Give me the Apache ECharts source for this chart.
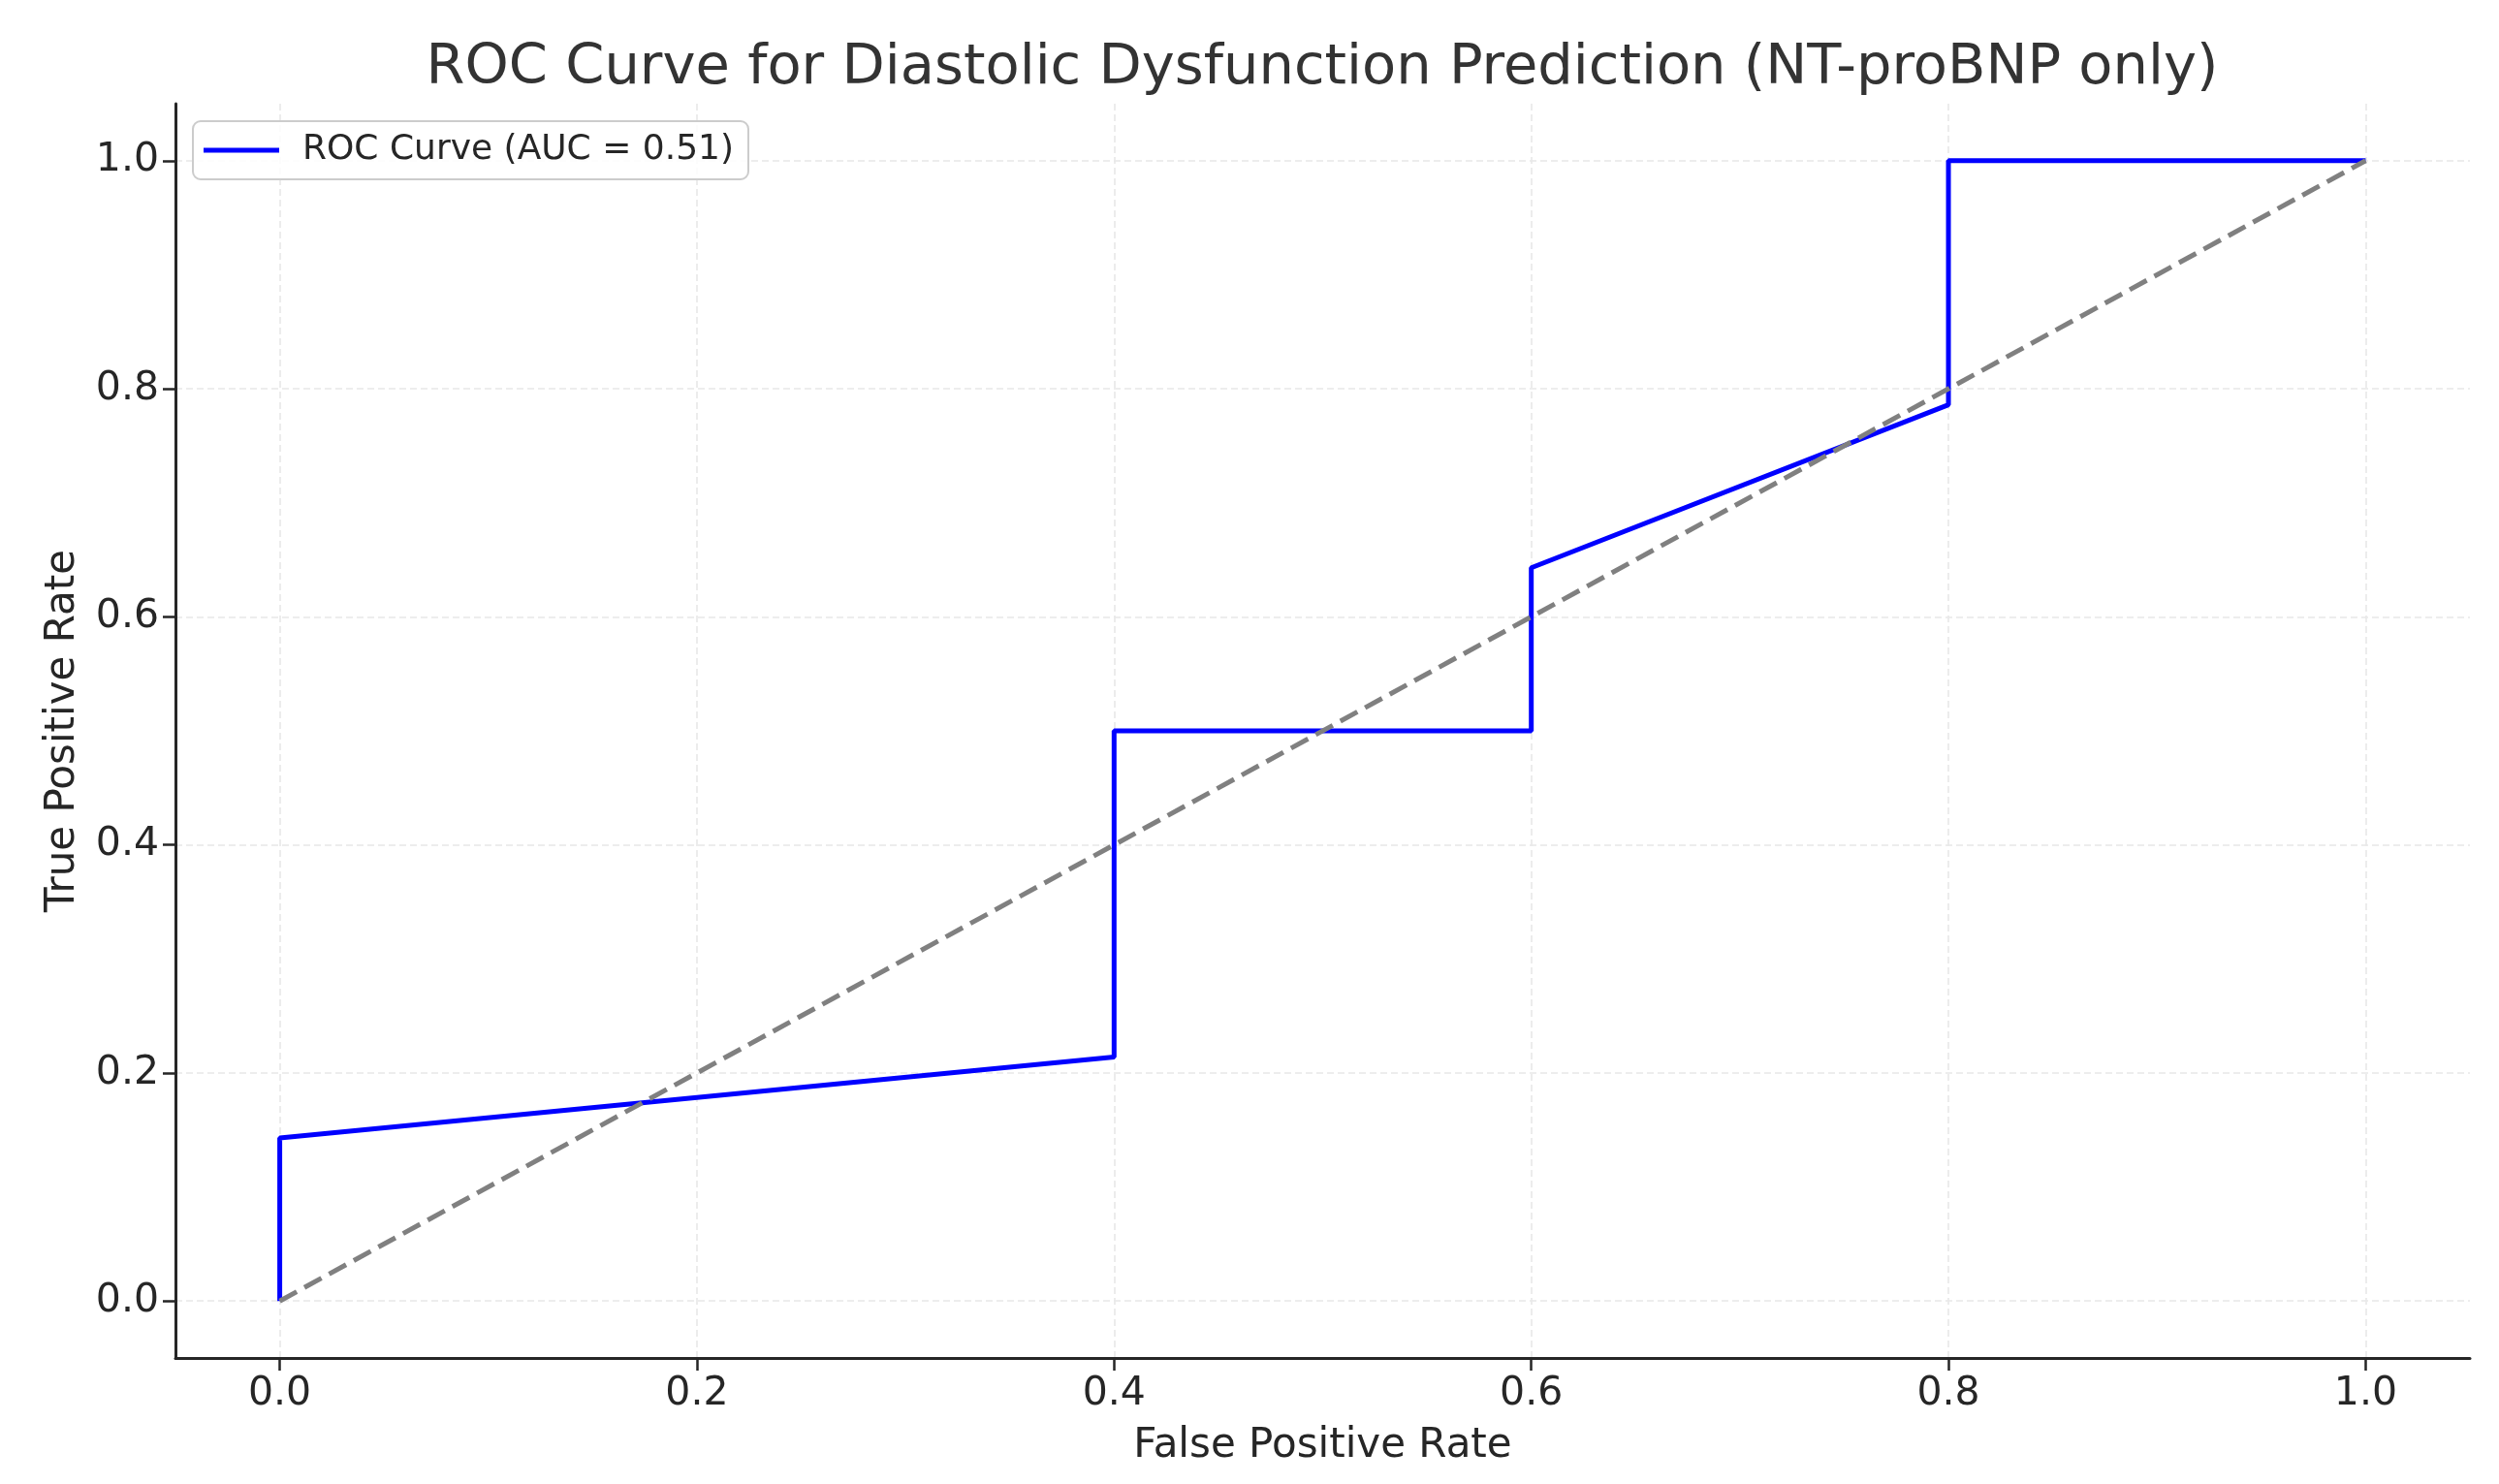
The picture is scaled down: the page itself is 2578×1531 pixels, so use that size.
<!DOCTYPE html>
<html>
<head>
<meta charset="utf-8">
<script src="https://cdn.jsdelivr.net/npm/echarts@6/dist/echarts.min.js"></script>
<style>
html,body{margin:0;padding:0;background:#fff;}
#chart{width:2578px;height:1531px;}
</style>
</head>
<body>
<div id="chart"></div>
<script>
const fpr = [0.0, 0.0, 0.4, 0.4, 0.6, 0.6, 0.8, 0.8, 1.0];
const tpr = [0.0, 0.143, 0.214, 0.5, 0.5, 0.643, 0.786, 1.0, 1.0];
const diagX = [0.0, 1.0];
const diagY = [0.0, 1.0];
const xTicks = [0.0, 0.2, 0.4, 0.6, 0.8, 1.0];
const yTicks = [0.0, 0.2, 0.4, 0.6, 0.8, 1.0];
const rocName = 'ROC Curve (AUC = 0.51)';
const titleText = 'ROC Curve for Diastolic Dysfunction Prediction (NT-proBNP only)';

const FONT = 'DejaVu Sans';
const rocData = fpr.map((x, i) => [x, tpr[i]]);
const diagData = diagX.map((x, i) => [x, diagY[i]]);

const chart = echarts.init(document.getElementById('chart'));
const gridLine = { show: true, lineStyle: { color: '#e8e8e8', width: 1.6, type: [7, 4] } };
chart.setOption({
  animation: false,
  backgroundColor: '#ffffff',
  title: {
    text: titleText,
    left: 1364, top: 42, padding: 0,
    textAlign: 'center',
    textStyle: { fontFamily: FONT, fontSize: 57.5, fontWeight: 'normal', color: '#333333' }
  },
  grid: { left: 181, right: 30, top: 107, bottom: 130 },
  legend: {
    data: [{ name: rocName, icon: 'rect' }],
    left: 199, top: 125,
    itemWidth: 78, itemHeight: 5,
    padding: [12, 15, 12, 11],
    borderColor: '#cccccc', borderWidth: 2, borderRadius: 8,
    backgroundColor: 'rgba(255,255,255,0.85)',
    itemStyle: { borderWidth: 0 },
    textStyle: { fontFamily: FONT, fontSize: 36, color: '#262626', padding: [0, 0, 0, 19] }
  },
  xAxis: {
    type: 'value', min: -0.05, max: 1.05,
    name: 'False Positive Rate', nameLocation: 'middle', nameGap: 70,
    nameTextStyle: { fontFamily: FONT, fontSize: 42, color: '#262626' },
    axisLine: { show: true, onZero: false, lineStyle: { color: '#262626', width: 3 } },
    axisTick: { show: true, customValues: xTicks, length: 13, lineStyle: { color: '#262626', width: 2.5 } },
    axisLabel: { customValues: xTicks, formatter: v => v.toFixed(1), fontFamily: FONT, fontSize: 41, color: '#262626', margin: 17 },
    splitLine: gridLine
  },
  yAxis: {
    type: 'value', min: -0.05, max: 1.05,
    name: 'True Positive Rate', nameLocation: 'middle', nameGap: 95,
    nameTextStyle: { fontFamily: FONT, fontSize: 42, color: '#262626' },
    axisLine: { show: true, onZero: false, lineStyle: { color: '#262626', width: 3 } },
    axisTick: { show: true, customValues: yTicks, length: 13, lineStyle: { color: '#262626', width: 2.5 } },
    axisLabel: { customValues: yTicks, formatter: v => v.toFixed(1), fontFamily: FONT, fontSize: 41, color: '#262626', margin: 17 },
    splitLine: gridLine
  },
  series: [
    {
      name: rocName, type: 'line', data: rocData,
      showSymbol: false, symbol: 'none',
      itemStyle: { color: '#0000ff' },
      lineStyle: { color: '#0000ff', width: 5 },
      z: 3
    },
    {
      name: 'diag', type: 'line', data: diagData,
      showSymbol: false, symbol: 'none',
      itemStyle: { color: '#808080' },
      lineStyle: { color: '#808080', width: 5, type: [20, 9] },
      z: 4
    }
  ]
});
</script>
</body>
</html>
